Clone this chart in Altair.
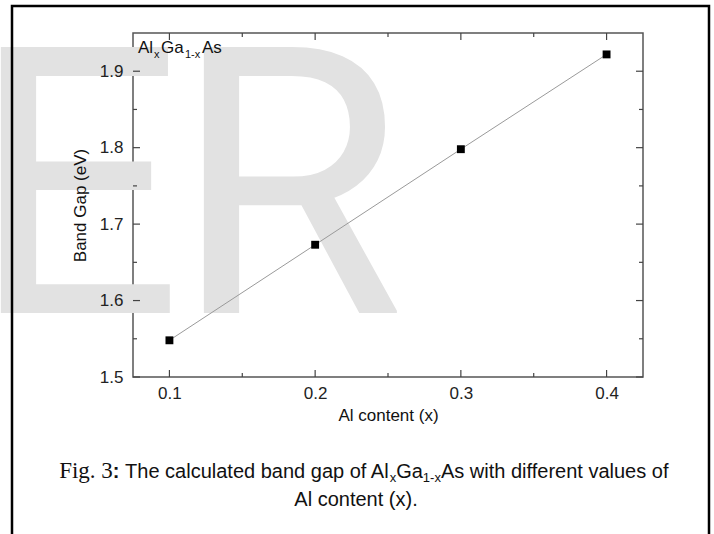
import altair as alt
import pandas as pd

# ---- data ----
al_content = [0.1, 0.2, 0.3, 0.4]
band_gap = [1.548, 1.673, 1.798, 1.922]
x_major = [0.1, 0.2, 0.3, 0.4]
x_minor = [0.15, 0.25, 0.35]
y_major = [1.5, 1.6, 1.7, 1.8, 1.9]
y_minor = [1.55, 1.65, 1.75, 1.85]

# ---- layout (plot area in page pixels) ----
L, T, R, B = 133, 33, 643, 377
W, H = R - L, B - T
SANS = "Liberation Sans"
SERIF = "Liberation Serif"

ARIAL = {" ": 278, "a": 556, "b": 556, "c": 500, "d": 556, "e": 556, "f": 278, "g": 556,
         "h": 556, "i": 222, "l": 222, "n": 556, "o": 556, "p": 556, "r": 333, "s": 500,
         "t": 278, "u": 556, "v": 500, "w": 722, "x": 500, "A": 667, "G": 778, "T": 611,
         "1": 556, "-": 333, ":": 333, "(": 333, ")": 333, ".": 278}
TIMES = {"F": 556, "i": 278, "g": 500, ".": 250, " ": 250, "3": 500}


def width(s, size, font):
    table = TIMES if font == SERIF else ARIAL
    return sum(table.get(c, 556) for c in s) * size / 1000


df = pd.DataFrame({"x": al_content, "y": band_gap})
one = pd.DataFrame({"k": [0]})

xs = alt.Scale(domain=[0.075, 0.425], nice=False, zero=False)
ys = alt.Scale(domain=[1.5, 1.95], nice=False, zero=False)

x_axis = alt.Axis(values=x_major, format=".1f", ticks=False, domain=False, grid=False,
                  labelFont=SANS, labelFontSize=17, labelColor="#222", labelPadding=8,
                  title="Al content (x)", titleFont=SANS, titleFontSize=17,
                  titleFontWeight="normal", titleColor="#111", titlePadding=6, zindex=1)
y_axis = alt.Axis(values=y_major, format=".1f", ticks=False, domain=False, grid=False,
                  labelFont=SANS, labelFontSize=17, labelColor="#222", labelPadding=10,
                  title="Band Gap (eV)", titleFont=SANS, titleFontSize=17,
                  titleFontWeight="normal", titleColor="#111", titlePadding=10, zindex=1)

# only this layer defines the axes; the other layers leave them implicit
line = alt.Chart(df).mark_line(color="#9a9a9a", strokeWidth=1).encode(
    x=alt.X("x:Q", scale=xs, axis=x_axis),
    y=alt.Y("y:Q", scale=ys, axis=y_axis),
)
pts = alt.Chart(df).mark_square(size=62, color="black", opacity=1, filled=True).encode(
    x=alt.X("x:Q", scale=xs),
    y=alt.Y("y:Q", scale=ys),
)


def xticks(vals, length):
    d = pd.DataFrame({"x": vals})
    base = alt.Chart(d).mark_rule(color="#444", strokeWidth=1.2)
    bot = base.encode(x=alt.X("x:Q", scale=xs), y=alt.value(H), y2=alt.value(H - length))
    top = base.encode(x=alt.X("x:Q", scale=xs), y=alt.value(0), y2=alt.value(length))
    return [bot, top]


def yticks(vals, length):
    d = pd.DataFrame({"y": vals})
    base = alt.Chart(d).mark_rule(color="#444", strokeWidth=1.2)
    lft = base.encode(y=alt.Y("y:Q", scale=ys), x=alt.value(0), x2=alt.value(length))
    rgt = base.encode(y=alt.Y("y:Q", scale=ys), x=alt.value(W), x2=alt.value(W - length))
    return [lft, rgt]


ticks = xticks(x_major, 7) + xticks(x_minor, 4) + yticks(y_major, 7) + yticks(y_minor, 4)


def text_at(text, font, size, weight, px, py, color="#111"):
    return alt.Chart(one).mark_text(align="left", baseline="alphabetic", font=font,
                                    fontSize=size, fontWeight=weight, color=color).encode(
        x=alt.value(px - L), y=alt.value(py - T), text=alt.value(text))


def centered(runs, cx, baseline):
    total = sum(width(t, s, f) for t, f, s, w, dy in runs)
    x = cx - total / 2
    layers = []
    for text, font, size, weight, dy in runs:
        stripped = text.lstrip(" ")
        lead = width(text[: len(text) - len(stripped)], size, font)
        layers.append(text_at(stripped, font, size, weight, x + lead, baseline + dy))
        x += width(text, size, font)
    return layers


# compound label inside the plot: (text, size, page x, baseline shift)
label_parts = [("Al", 17, L + 5, 0), ("x", 11, L + 21, 5), ("Ga", 17, L + 28, 0),
               ("1-x", 11, L + 52, 5), ("As", 17, L + 69, 0)]
label_layers = [text_at(t, SANS, s, "normal", px, T + 20 + dy) for t, s, px, dy in label_parts]

# caption
cap1 = [("Fig. 3", SERIF, 23, "normal", 0), (":", SANS, 20, "bold", 0),
        (" The calculated band gap of Al", SANS, 20, "normal", 0), ("x", SANS, 13, "normal", 4),
        ("Ga", SANS, 20, "normal", 0), ("1-x", SANS, 13, "normal", 4),
        ("As with different values of", SANS, 20, "normal", 0)]
cap2 = [("Al content (x).", SANS, 20, "normal", 0)]
cap_layers = centered(cap1, 364, 478) + centered(cap2, 356, 506)

# watermark letters
wm = [alt.Chart(one).mark_text(align="left", baseline="alphabetic", font="Roboto",
                               fontSize=374, color="#e2e2e2").encode(
    x=alt.value(px - L), y=alt.value(313 - T), text=alt.value(t))
    for t, px in [("E", -30), ("R", 173)]]

frame = alt.Chart(one).mark_rect(fill=None, stroke="black", strokeWidth=2.5).encode(
    x=alt.value(12 - L), x2=alt.value(709 - L), y=alt.value(6 - T), y2=alt.value(570 - T))

chart = alt.layer(*wm, frame, line, *ticks, pts, *label_layers, *cap_layers).properties(
    width=W, height=H,
    autosize=alt.AutoSizeParams(type="none"),
    padding={"left": L, "top": T, "right": 714 - R, "bottom": 534 - B},
    background="white",
).configure_view(stroke="#555", strokeWidth=1.5)

chart.save("out.html", embed_options={"renderer": "svg", "actions": False})
